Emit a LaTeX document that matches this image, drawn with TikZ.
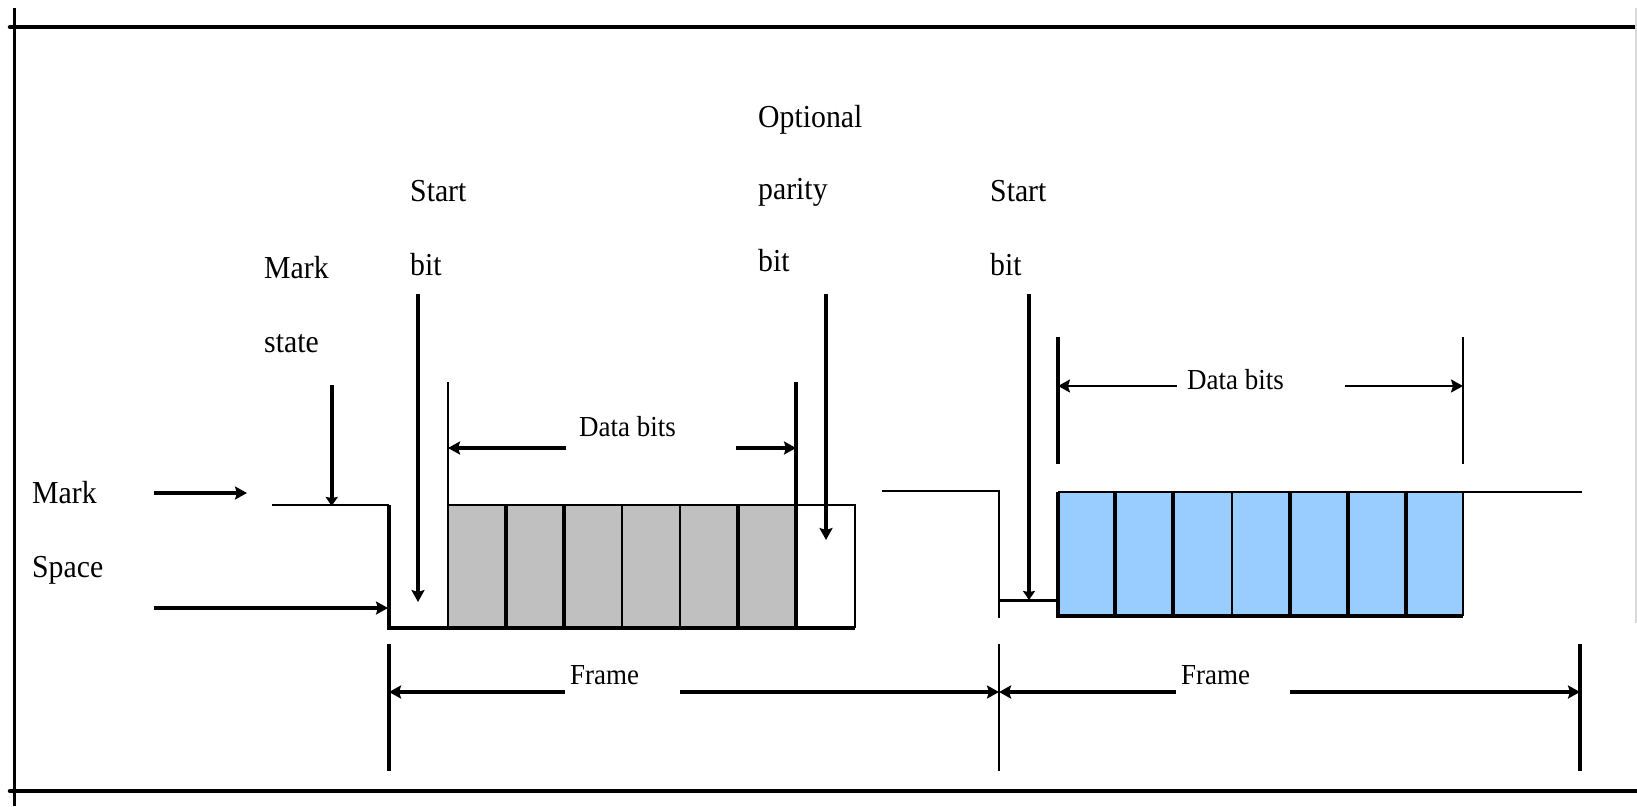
\documentclass[tikz,border=0pt]{standalone}
\usepackage{fontspec}
\setmainfont{Liberation Serif}[FakeStretch=0.93]
\usetikzlibrary{arrows.meta}
\definecolor{cellgray}{RGB}{192,192,192}
\definecolor{cellblue}{RGB}{153,204,255}

\begin{document}
\begin{tikzpicture}[x=1pt,y=-1pt,
  wire/.style={line width=2pt},
  heavy/.style={line width=4pt},
  tipped/.style={-{Stealth[length=12pt,width=13pt,inset=2pt]}},
  tiptiny/.style={-{Stealth[length=9pt,width=12pt,inset=1pt]}},
  lbl/.style={anchor=base west,inner sep=0pt,font=\fontsize{32}{38}\selectfont},
  dimlbl/.style={anchor=base west,inner sep=0pt,font=\fontsize{29}{34}\selectfont},
]
\useasboundingbox (0,0) rectangle (1637,806);

% outer rules
\draw[line width=3pt] (14,8) -- (14,806);
\draw[line width=4.5pt,line cap=round] (10,27) -- (1637,27);
\draw[line width=4.5pt,line cap=round] (10,791) -- (1637,791);
\draw[black!15,line width=1.5pt] (1636,8) -- (1636,623);

% labels
\node[lbl] (msA) at (264,278) {Mark};
\node[lbl] (msB) at (264,352) {state};
\node[lbl] (s1A) at (410,201) {Start};
\node[lbl] (s1B) at (410,275) {bit};
\node[lbl] (opA) at (758,127) {Optional};
\node[lbl] (opB) at (758,199) {parity};
\node[lbl] (opC) at (758,271) {bit};
\node[lbl] (s2A) at (990,201) {Start};
\node[lbl] (s2B) at (990,275) {bit};
\node[lbl] (mk) at (32,503) {Mark};
\node[lbl] (sp) at (32,577) {Space};
\node[dimlbl] (db1) at (579,436) {Data bits};
\node[dimlbl] (db2) at (1187,389) {Data bits};
\node[dimlbl] (fr1) at (570,684) {Frame};
\node[dimlbl] (fr2) at (1181,684) {Frame};

% ---------- first character ----------
\fill[cellgray] (448,505) rectangle (796,628);
\foreach \x in {506,564,738} \draw[heavy] (\x,505) -- (\x,628);
\foreach \x in {622,680} \draw[wire] (\x,505) -- (\x,628);
\draw[wire] (448,505) -- (855,505) -- (855,628);
\draw[wire] (448,382) -- (448,628);
\draw[heavy] (796,382) -- (796,628);
\draw[wire] (272,505) -- (389,505);
\draw[line width=3.5pt] (389,505) -- (389,628) -- (855,628);

% data bits span
\coordinate (d1L) at (448,448);
\coordinate (d1R) at (796,448);
\draw[heavy,tipped] (566,448) coordinate (d1a) -- (d1L);
\draw[heavy,tipped] (736,448) coordinate (d1b) -- (d1R);

% pointers
\coordinate (msTop) at (331.7,385);
\coordinate (msEnd) at (331.7,506);
\draw[heavy,tiptiny] (msTop) -- (msEnd);
\coordinate (s1Top) at (418,294);
\coordinate (s1End) at (418,602);
\draw[heavy,tipped] (s1Top) -- (s1End);
\coordinate (opTop) at (826,294);
\coordinate (opEnd) at (826,540);
\draw[heavy,tipped] (opTop) -- (opEnd);
\coordinate (mkS) at (154,493);
\coordinate (mkE) at (247,493);
\draw[heavy,tipped] (mkS) -- (mkE);
\coordinate (spS) at (154,608);
\coordinate (spE) at (388,608);
\draw[heavy,tipped] (spS) -- (spE);

% ---------- second character ----------
\draw[wire] (882,491) -- (999,491) -- (999,618);
\draw[line width=3pt] (999,600) -- (1058,600);
\fill[cellblue] (1058,492) rectangle (1463,616);
\foreach \x in {1115,1173,1290,1348,1406} \draw[heavy] (\x,492) -- (\x,616);
\draw[wire] (1232,492) -- (1232,616);
\draw[wire] (1058,492) -- (1582,492);
\draw[line width=2.5pt] (1463,492) -- (1463,616);
\draw[heavy] (1058,492) -- (1058,616) -- (1463,616);

\draw[heavy] (1058,337) -- (1058,464);
\draw[wire] (1463,337) -- (1463,464);
\coordinate (d2L) at (1058,386);
\coordinate (d2R) at (1463,386);
\draw[wire,tipped] (1177,386) coordinate (d2a) -- (d2L);
\draw[wire,tipped] (1345,386) coordinate (d2b) -- (d2R);

\coordinate (s2Top) at (1029,294);
\coordinate (s2End) at (1029,600);
\draw[line width=3.5pt,tiptiny] (s2Top) -- (s2End);

% ---------- frame spans ----------
\draw[heavy] (389,644) -- (389,771);
\draw[wire] (999,644) -- (999,771);
\draw[heavy] (1580,644) -- (1580,771);
\coordinate (f1L) at (389,692);
\coordinate (fM) at (999,692);
\coordinate (f2R) at (1580,692);
\draw[line width=4.5pt,tipped] (565,692) coordinate (f1a) -- (f1L);
\draw[line width=4.5pt,tipped] (680,692) coordinate (f1b) -- (fM);
\draw[line width=4.5pt,tipped] (1176,692) coordinate (f2a) -- (fM);
\draw[line width=4.5pt,tipped] (1290,692) coordinate (f2b) -- (f2R);

\end{tikzpicture}
\end{document}
